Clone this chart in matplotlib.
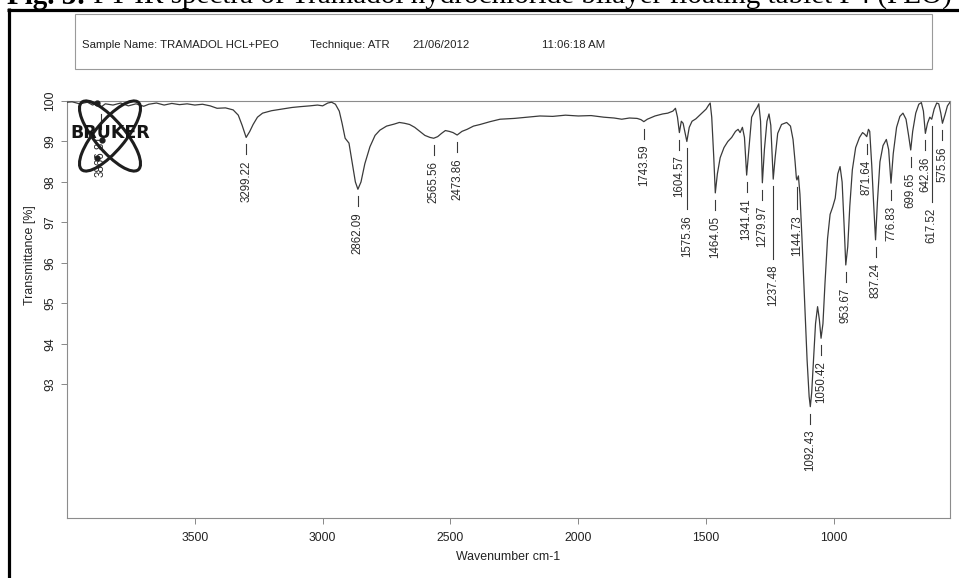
import matplotlib.pyplot as plt
from matplotlib.patches import Ellipse, Rectangle

# FT-IR trace, wavenumber (cm-1) and transmittance (%)
wavenumber = [
    4000, 3980, 3950, 3920, 3900, 3880, 3866.81, 3850, 3820, 3790, 3760, 3730,
    3700, 3680, 3650, 3620, 3590, 3560, 3530, 3500, 3470, 3440, 3413, 3380,
    3350, 3330, 3315, 3299.22, 3285, 3272, 3255, 3235, 3200, 3160, 3120, 3088,
    3050, 3020, 3000, 2980, 2965, 2950, 2935, 2924, 2912, 2897, 2885, 2872,
    2862.09, 2850, 2835, 2815, 2795, 2776, 2750, 2720, 2700, 2680, 2660, 2640,
    2620, 2600, 2580, 2565.56, 2550, 2535, 2520, 2505, 2490, 2473.86, 2455,
    2435, 2410, 2384, 2345, 2306, 2250, 2200, 2150, 2100, 2050, 2000, 1950,
    1900, 1860, 1830, 1800, 1770, 1755, 1743.59, 1730, 1700, 1670, 1650, 1630,
    1620, 1612, 1604.57, 1597, 1590, 1582, 1575.36, 1566, 1555, 1540, 1520,
    1500, 1490, 1484, 1478, 1470, 1464.05, 1456, 1445, 1430, 1415, 1400, 1385,
    1375, 1367, 1358, 1350, 1341.41, 1333, 1322, 1310, 1300, 1294, 1287,
    1279.97, 1272, 1262, 1254, 1247, 1237.48, 1230, 1220, 1205, 1185, 1170,
    1160, 1152, 1147, 1144.73, 1139, 1133, 1125, 1115, 1105, 1097, 1092.43,
    1087, 1080, 1072, 1064, 1057, 1050.42, 1043, 1035, 1025, 1015, 1005, 995,
    985, 976, 968, 960, 953.67, 946, 938, 928, 915, 900, 888, 880, 871.64,
    865, 860, 852, 845, 837.24, 830, 820, 808, 795, 786, 776.83, 768, 755,
    742, 730, 718, 708, 699.65, 692, 680, 668, 658, 650, 642.36, 634, 625,
    617.52, 608, 598, 590, 582, 575.56, 566, 556, 546,
]
transmittance = [
    99.97, 99.98, 99.93, 99.97, 99.90, 99.95, 99.85, 99.93, 99.90, 99.95, 99.88, 99.93,
    99.87, 99.92, 99.95, 99.90, 99.94, 99.91, 99.93, 99.90, 99.92, 99.88, 99.82, 99.83,
    99.78, 99.65, 99.40, 99.10, 99.25, 99.42, 99.60, 99.70, 99.76, 99.80, 99.84, 99.86,
    99.88, 99.90, 99.88, 99.95, 99.97, 99.92, 99.75, 99.45, 99.08, 98.96, 98.50, 98.00,
    97.82, 98.00, 98.45, 98.87, 99.15, 99.28, 99.38, 99.43, 99.47, 99.45, 99.42, 99.35,
    99.25, 99.15, 99.10, 99.08, 99.12, 99.20, 99.27, 99.25, 99.22, 99.16, 99.25,
    99.30, 99.38, 99.42, 99.49, 99.55, 99.57, 99.60, 99.63, 99.62, 99.65, 99.63, 99.64,
    99.60, 99.58, 99.55, 99.58, 99.57, 99.54, 99.49, 99.55, 99.63, 99.68, 99.70, 99.75,
    99.82, 99.60, 99.22, 99.50, 99.45, 99.20, 99.00, 99.35, 99.50, 99.56, 99.68,
    99.80, 99.90, 99.95, 99.60, 98.60, 97.73, 98.20, 98.60, 98.85, 99.00, 99.10, 99.25,
    99.30, 99.22, 99.35, 99.10, 98.17, 98.80, 99.60, 99.75, 99.85, 99.93, 99.50,
    97.98, 98.80, 99.50, 99.68, 99.40, 98.07, 98.60, 99.20, 99.42, 99.47, 99.38,
    99.05, 98.50, 98.10, 98.05, 98.15, 97.70, 96.60, 95.10, 93.60, 92.70, 92.45,
    92.80, 93.60, 94.50, 94.92, 94.60, 94.14, 94.50, 95.50, 96.60, 97.20, 97.38, 97.60,
    98.20, 98.38, 98.00, 96.90, 95.95, 96.40, 97.40, 98.30, 98.85, 99.10, 99.22, 99.18, 99.12,
    99.30, 99.25, 98.40, 97.50, 96.57, 97.50, 98.50, 98.90, 99.05, 98.80, 97.97, 98.70, 99.35,
    99.62, 99.70, 99.55, 99.15, 98.79, 99.25, 99.70, 99.92, 99.96, 99.75, 99.20, 99.45, 99.60,
    99.55, 99.80, 99.95, 99.93, 99.70, 99.45, 99.65, 99.88, 99.97,
]

# picked peaks
peak_labels = [
    "3866.81", "3299.22", "2862.09", "2565.56", "2473.86", "1743.59", "1604.57",
    "1575.36", "1464.05", "1341.41", "1279.97", "1237.48", "1144.73", "1092.43",
    "1050.42", "953.67", "871.64", "837.24", "776.83", "699.65", "642.36",
    "617.52", "575.56",
]

# labels pushed further down, with a long leader (top of text, % units)
long_leader = {"3866.81": 99.16, "1575.36": 97.18, "1237.48": 95.95,
               "1144.73": 97.18, "617.52": 97.36}

px = 1 / 40.47  # one pixel in transmittance units

fig = plt.figure(figsize=(9.59, 5.78), dpi=100)
ax = fig.add_axes([67 / 959, 1 - 518 / 578, 883 / 959, 417 / 578])

line_color = "#3a3a3a"
ax.plot(wavenumber, transmittance, color=line_color, lw=0.9, zorder=3)

for lab in peak_labels:
    wn = float(lab)
    t_peak = transmittance[wavenumber.index(wn)]
    if lab in long_leader:
        t_text = long_leader[lab]
    else:
        t_text = t_peak - 23 * px
    ax.plot([wn, wn], [t_peak - 7 * px, t_text + 6 * px], color=line_color, lw=0.8)
    ax.text(wn, t_text, lab, rotation=90, ha="center", va="top",
            fontsize=8.3, color="#2a2a2a", family="Liberation Sans")

ax.set_xlim(4000, 546)
ax.set_ylim(89.7, 100)
ax.set_xticks([3500, 3000, 2500, 2000, 1500, 1000])
ax.set_yticks([93, 94, 95, 96, 97, 98, 99, 100])
ax.tick_params(length=4, width=0.7, color="#888888", pad=6,
               labelsize=8.7, labelcolor="#222222")
ax.tick_params(axis="y", labelrotation=90, pad=4)
for t in ax.get_yticklabels():
    t.set_va("center")
    t.set_family("Liberation Sans")
for t in ax.get_xticklabels():
    t.set_family("Liberation Sans")
for s in ax.spines.values():
    s.set_color("#8c8c8c")
    s.set_linewidth(0.8)

ax.set_xlabel("Wavenumber cm-1", fontsize=8.9, color="#222222", family="Liberation Sans")
ax.set_ylabel("Transmittance [%]", fontsize=8.9, color="#222222", family="Liberation Sans")
ax.xaxis.set_label_coords(0.5, -0.079)
ax.yaxis.set_label_coords(-0.035, 0.631)

# page decorations in pixel coordinates
deco = fig.add_axes([0, 0, 1, 1], zorder=5)
deco.set_xlim(0, 959)
deco.set_ylim(578, 0)
deco.axis("off")
deco.patch.set_alpha(0)

deco.plot([7, 959], [9.5, 9.5], color="black", lw=2.3, solid_capstyle="butt")
deco.plot([8.5, 8.5], [8, 578], color="black", lw=2.3, solid_capstyle="butt")

deco.add_patch(Rectangle((75, 14), 857, 55, fill=False, ec="#9a9a9a", lw=0.8))
header = [(82, "Sample Name: TRAMADOL HCL+PEO"), (310, "Technique: ATR"),
          (412, "21/06/2012"), (542, "11:06:18 AM")]
for x, s in header:
    deco.text(x, 45, s, fontsize=8.2, va="center", ha="left", color="#222222",
              family="Liberation Sans")

# caption, cut at the top of the page
cap1 = deco.text(7, 4.5, "Fig. 3:", fontsize=21, weight="bold", va="baseline",
                 family="Liberation Serif", color="black")
deco.annotate(" FT-IR spectra of Tramadol hydrochloride bilayer floating tablet F4 (PEO)",
              xy=(1, 0), xycoords=cap1, va="bottom", ha="left", fontsize=21,
              family="Liberation Serif", color="black", annotation_clip=False)

# logo
for ang in (50, -50):
    deco.add_patch(Ellipse((110, 136), 88, 30, angle=ang, fill=False,
                           ec="#1e1e1e", lw=2.2))
deco.plot([97, 102, 97], [103, 140, 158], "o", color="#1e1e1e", ms=3.5)
deco.text(110, 133, "BRUKER", fontsize=12.5, weight="bold", ha="center",
          va="center", family="DejaVu Sans", color="#151515")

fig.savefig("out.png", dpi=100)
